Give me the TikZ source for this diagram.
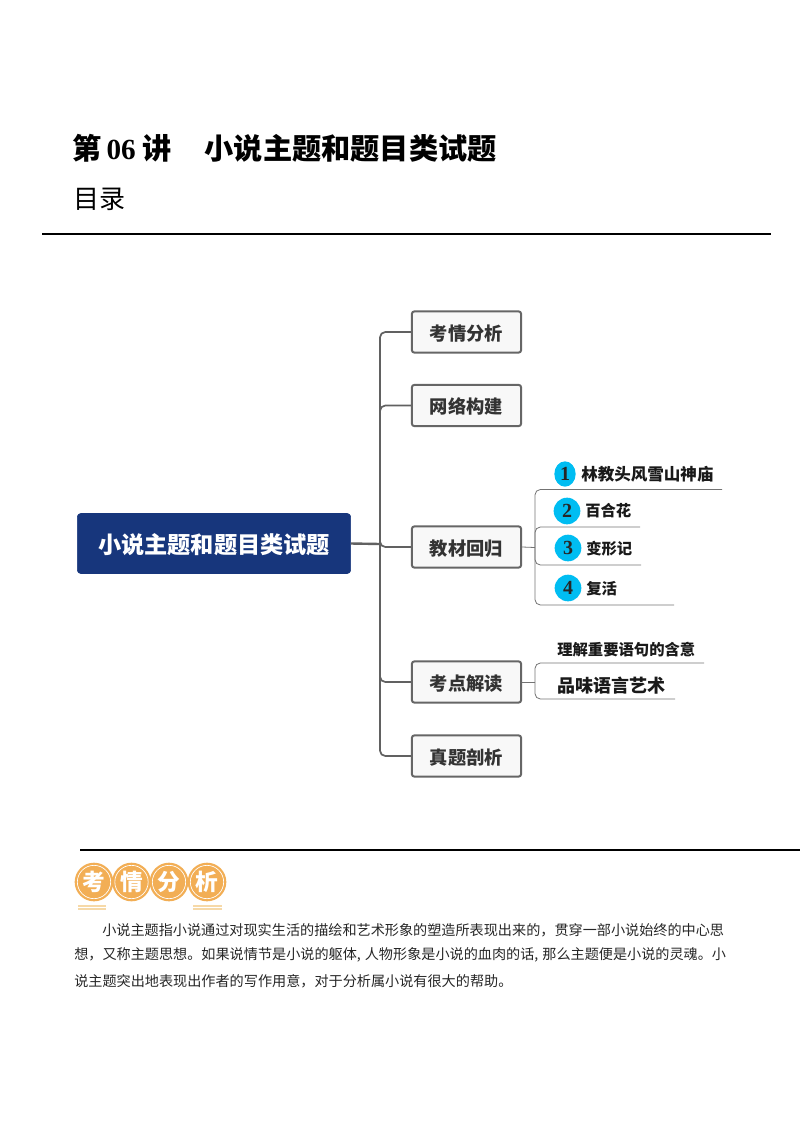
\documentclass[tikz,border=0pt]{standalone}
\usepackage{fontspec}
\setmainfont{Noto Sans CJK SC}
\newfontfamily\latfont{Liberation Serif}
\usetikzlibrary{shapes.geometric}
\definecolor{navy}{HTML}{17367C}
\definecolor{boxline}{HTML}{666666}
\definecolor{boxfill}{HTML}{F8F8F8}
\definecolor{badge}{HTML}{F2AE55}
\definecolor{stripe}{HTML}{F6D9A8}
\definecolor{bullet}{HTML}{00BDF2}
\tikzset{
    topicbox/.style={draw=boxline,fill=boxfill,line width=1.5pt,rounded corners=2pt,minimum width=82pt,minimum height=31pt,inner sep=0pt,text height=13.9pt,text depth=1.5pt,font=\fontsize{13.7pt}{16pt}\selectfont\bfseries,text=black!80},
    trunkline/.style={draw=black!62,line width=1.3pt,rounded corners=4pt},
    subline/.style={draw=black!55,line width=0.6pt,rounded corners=4pt},
    numdot/.style={ellipse,fill=bullet,inner sep=0pt,minimum width=20pt,minimum height=20pt,font=\latfont\fontsize{15pt}{15pt}\selectfont\bfseries,text=black!85},
    subtext/.style={anchor=west,inner sep=0pt,font=\fontsize{11.5pt}{14pt}\selectfont\bfseries,text=black!90},
    bodyline/.style={anchor=west,inner sep=0pt,font=\fontsize{10.6pt}{13pt}\selectfont,text=black!85}
}
\begin{document}
\begin{tikzpicture}[x=0.75pt,y=-0.75pt]
    \useasboundingbox (0,0) rectangle (800,1132);
    %% heading
    \node[anchor=west,inner sep=0pt,font=\fontsize{21.9pt}{24pt}\selectfont\bfseries] (lecture) at (72.5,148) {第\hspace{3.5pt}{\latfont 06}\hspace{5pt}讲};
    \node[anchor=west,inner sep=0pt,font=\fontsize{21.9pt}{24pt}\selectfont\bfseries] (title) at (204.5,148) {小说主题和题目类试题};
    \node[anchor=west,inner sep=0pt,font=\fontsize{19.5pt}{22pt}\selectfont] (toc) at (73.5,199) {目录};
    \draw[line width=1.9pt] (42,234) -- (771,234);
    %% root and first level
    \node[fill=navy,draw=navy,rounded corners=2.5pt,minimum width=205pt,minimum height=45pt,inner sep=0pt,text height=17pt,text depth=1.8pt,text=white,font=\fontsize{17.4pt}{20pt}\selectfont\bfseries] (root) at (214,543.5) {小说主题和题目类试题};
    \node[topicbox] (exam) at (466.5,332) {考情分析};
    \node[topicbox] (net) at (466.5,405.5) {网络构建};
    \node[topicbox] (book) at (466.5,547) {教材回归};
    \node[topicbox] (point) at (466.5,682) {考点解读};
    \node[topicbox] (real) at (466.5,756) {真题剖析};
    \coordinate (trunk) at (380,544);
    \draw[trunkline,line width=1.8pt] (root.east) -- (trunk);
    \draw[trunkline] (trunk) |- (exam.west);
    \draw[trunkline] (trunk) |- (net.west);
    \draw[trunkline] (trunk) |- (book.west);
    \draw[trunkline] (trunk) |- (point.west);
    \draw[trunkline] (trunk) |- (real.west);
    %% texts under book
    \node[numdot,minimum width=16pt,minimum height=19pt] (n1) at (565,474) {1};
    \node[numdot] (n2) at (567,511) {2};
    \node[numdot] (n3) at (568,548) {3};
    \node[numdot] (n4) at (568,588) {4};
    \node[subtext,font=\fontsize{12.4pt}{14pt}\selectfont\bfseries] (t1) at (581,474) {林教头风雪山神庙};
    \node[subtext] (t2) at (585,511) {百合花};
    \node[subtext] (t3) at (586,548.7) {变形记};
    \node[subtext] (t4) at (586,588.7) {复活};
    \coordinate (bookhub) at (535,547.5);
    \coordinate (e1) at (722,489.5);
    \coordinate (e2) at (640,527);
    \coordinate (e3) at (641,565);
    \coordinate (e4) at (674,605);
    \draw[subline] (book.east) -- (bookhub);
    \draw[subline] (bookhub) |- (e1);
    \draw[subline] (bookhub) |- (e2);
    \draw[subline] (bookhub) |- (e3);
    \draw[subline] (bookhub) |- (e4);
    %% texts under point
    \node[subtext] (p1) at (557,650) {理解重要语句的含意};
    \node[subtext,font=\fontsize{13.5pt}{16pt}\selectfont\bfseries] (p2) at (557,686) {品味语言艺术};
    \coordinate (pointhub) at (535,682);
    \coordinate (e5) at (704,663);
    \coordinate (e6) at (675,699);
    \draw[subline] (point.east) -- (pointhub);
    \draw[subline] (pointhub) |- (e5);
    \draw[subline] (pointhub) |- (e6);
    %% lower part
    \draw[line width=1.7pt] (80,850) -- (800,850);
    \fill[stripe] (78,905) rectangle (106,907);
    \fill[stripe] (78,908) rectangle (106,910);
    \fill[stripe] (193,905) rectangle (222,907);
    \fill[stripe] (193,908) rectangle (222,910);
    \foreach \x/\ch/\nm in {94/考/a,131.5/情/b,169/分/c,207/析/d}{
        \node[circle,fill=badge,minimum size=29pt,inner sep=0pt] (badge\nm) at (\x,882) {};
        \draw[white,line width=0.5pt] (badge\nm) circle (12.5pt);
        \node[text=white,inner sep=0pt,font=\fontsize{17pt}{17pt}\selectfont\bfseries] at (badge\nm) {\ch};
    }
    \node[bodyline] (line1) at (102,930) {小说主题指小说通过对现实生活的描绘和艺术形象的塑造所表现出来的，贯穿一部小说始终的中心思};
    \node[bodyline] (line2) at (74,955) {想，又称主题思想。如果说情节是小说的躯体,\hspace{3pt}人物形象是小说的血肉的话,\hspace{3pt}那么主题便是小说的灵魂。小};
    \node[bodyline] (line3) at (74,981) {说主题突出地表现出作者的写作用意，对于分析属小说有很大的帮助。};
\end{tikzpicture}
\end{document}
